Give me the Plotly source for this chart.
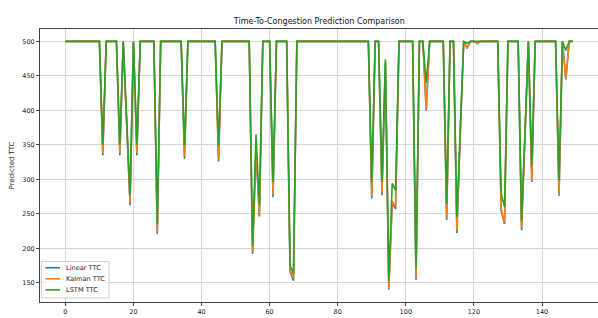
import plotly.graph_objects as go

steps = list(range(150))

# value overrides (index: (linear, kalman, lstm)); all other steps sit at the 500 cap
dips = {
    11: (335, 338, 350), 16: (335, 338, 350), 18: (380, 383, 390), 19: (262, 266, 277),
    21: (335, 338, 350), 27: (221, 224, 236), 35: (330, 333, 349), 45: (326, 330, 348),
    55: (192, 194, 203), 56: (343, 346, 365), 57: (246, 249, 262), 61: (274, 278, 296),
    66: (166, 168, 175), 67: (153, 156, 163), 90: (272, 276, 296), 93: (277, 280, 296),
    94: (468, 470, 474), 95: (140, 142, 153), 96: (265, 268, 294), 97: (257, 260, 284),
    103: (154, 157, 171), 106: (400, 402, 440), 112: (241, 244, 264), 115: (222, 225, 245),
    116: (365, 370, 375), 118: (490, 490, 497), 121: (497, 497, 500), 128: (255, 257, 279),
    129: (235, 237, 260), 134: (226, 229, 240), 135: (370, 372, 375), 137: (296, 298, 320),
    145: (276, 278, 298), 147: (445, 446, 487),
}

linear_ttc = [dips[i][0] if i in dips else 500 for i in steps]
kalman_ttc = [dips[i][1] if i in dips else 500 for i in steps]
lstm_ttc = [dips[i][2] if i in dips else 500 for i in steps]

series_names = ["Linear TTC", "Kalman TTC", "LSTM TTC"]
series_values = [linear_ttc, kalman_ttc, lstm_ttc]
series_colors = ["#1f77b4", "#ff7f0e", "#2ca02c"]

x_ticks = [0, 20, 40, 60, 80, 100, 120, 140]
y_ticks = [150, 200, 250, 300, 350, 400, 450, 500]

fig = go.Figure()
for name, vals, color in zip(series_names, series_values, series_colors):
    fig.add_trace(go.Scatter(x=steps, y=vals, mode="lines", name=name,
                             line=dict(color=color, width=1.6)))

font = "DejaVu Sans"
fig.update_layout(
    width=598, height=318,
    margin=dict(l=40, r=0, t=29, b=16, autoexpand=False),
    paper_bgcolor="white", plot_bgcolor="white",
    font=dict(family=font, size=6.5, color="#222"),
    title=dict(text="Time-To-Congestion Prediction Comparison",
               x=0.534, xanchor="center", y=1 - 21 / 318, yanchor="middle",
               yref="container", font=dict(family=font, size=8, color="#111")),
    showlegend=False,
    xaxis=dict(range=[-7.45, 156.45], tickvals=x_ticks, ticks="outside", ticklen=3,
               tickcolor="#444", showline=True, linecolor="#444", linewidth=1, mirror=True,
               showgrid=True, gridcolor="#d6d6d6", gridwidth=1, zeroline=False,
               automargin=False),
    yaxis=dict(range=[122, 518], tickvals=y_ticks, ticks="outside", ticklen=3,
               tickcolor="#444", showline=True, linecolor="#444", linewidth=1, mirror=True,
               showgrid=True, gridcolor="#d6d6d6", gridwidth=1, zeroline=False,
               automargin=False,
               title=dict(text="Predicted TTC", standoff=6,
                          font=dict(family=font, size=7, color="#222"))),
)

# compact matplotlib-style legend (box, line samples, labels)
plot_l, plot_r, plot_t, plot_b = 40, 598, 29, 302
pw, ph = plot_r - plot_l, plot_b - plot_t
px = lambda v: (v - plot_l) / pw
py = lambda v: (plot_b - v) / ph

fig.add_shape(type="rect", xref="paper", yref="paper",
              x0=px(41.5), x1=px(109), y0=py(298), y1=py(261.5),
              line=dict(color="#cfcfcf", width=1), fillcolor="rgba(255,255,255,0.85)",
              layer="above")
for i, (name, color) in enumerate(zip(series_names, series_colors)):
    yy = py(267.7 + i * 11.1)
    fig.add_shape(type="line", xref="paper", yref="paper",
                  x0=px(45.5), x1=px(60), y0=yy, y1=yy,
                  line=dict(color=color, width=1.6), layer="above")
    fig.add_annotation(text=name, xref="paper", yref="paper", x=px(63.5), y=yy,
                       xanchor="left", yanchor="middle", showarrow=False,
                       font=dict(family=font, size=6.6, color="#222"))

fig.add_annotation(text="Time Step", xref="paper", yref="paper", x=0.5, y=-(316 - 302) / 273,
                   xanchor="center", yanchor="top", showarrow=False,
                   font=dict(family=font, size=7, color="#222"))

fig.write_html("out.html", config={"displayModeBar": False},
               post_script="document.body.style.margin='0';")
